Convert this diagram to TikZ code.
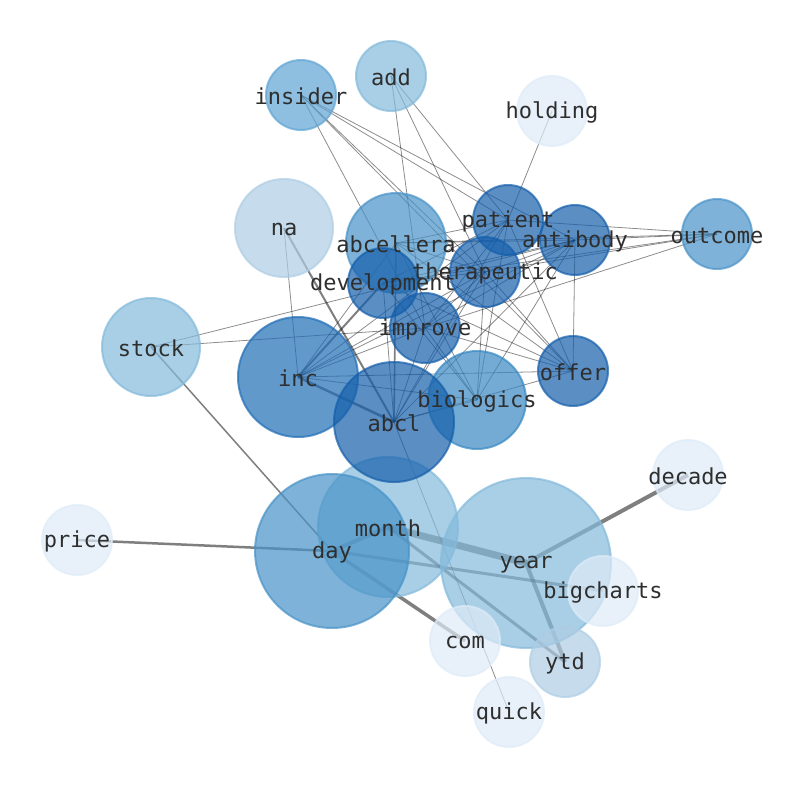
\documentclass[tikz,border=0pt]{standalone}
\usepackage{fontspec}
\newfontfamily\monof{DejaVu Sans Mono}
\pgfdeclarelayer{bg}
\pgfsetlayers{bg,main}
\definecolor{cA}{HTML}{DEEBF7}
\definecolor{cB}{HTML}{AECDE4}
\definecolor{cC}{HTML}{83BADB}
\definecolor{cD}{HTML}{5FA4D3}
\definecolor{cE}{HTML}{4892C7}
\definecolor{cF}{HTML}{3888C2}
\definecolor{cG}{HTML}{206DB5}
\definecolor{cH}{HTML}{155FAB}
\definecolor{txt}{HTML}{2E2E2E}
\tikzset{
  wn/.style={circle, inner sep=0pt, minimum size=#1, line width=2pt, fill opacity=0.7, draw opacity=0.7},
  lab/.style={font=\monof\fontsize{22}{24}\selectfont, text=txt, inner sep=0pt},
  ed/.style={draw=black, draw opacity=0.45, line width=0.8pt},
  edw/.style={draw=black, draw opacity=0.5, line width=#1},
}
\begin{document}
\begin{tikzpicture}[x=1pt,y=-1pt]
\useasboundingbox (0,0) rectangle (794,790);
% nodes (drawing order)
\node[wn=98,  fill=cB, draw=cB] (na) at (284,228) {};
\node[wn=98,  fill=cC, draw=cC] (stock) at (151,347) {};
\node[wn=70,  fill=cD, draw=cD] (insider) at (301,95) {};
\node[wn=70,  fill=cC, draw=cC] (add) at (391,76) {};
\node[wn=70,  fill=cA, draw=cA] (holding) at (552,111) {};
\node[wn=70,  fill=cE, draw=cE] (outcome) at (717,234) {};
\node[wn=100, fill=cE, draw=cE] (abcellera) at (396,243) {};
\node[wn=70,  fill=cH, draw=cH] (patient) at (508,220) {};
\node[wn=70,  fill=cH, draw=cH] (antibody) at (575,240) {};
\node[wn=70,  fill=cH, draw=cH] (therapeutic) at (485,272) {};
\node[wn=70,  fill=cH, draw=cH] (development) at (383,283) {};
\node[wn=70,  fill=cH, draw=cH] (improve) at (425,328) {};
\node[wn=120, fill=cG, draw=cG] (inc) at (298,377) {};
\node[wn=70,  fill=cH, draw=cH] (offer) at (573,371) {};
\node[wn=98,  fill=cF, draw=cF] (biologics) at (477,400) {};
\node[wn=140, fill=cC, draw=cC] (month) at (388,527) {};
\node[wn=120, fill=cH, draw=cH] (abcl) at (394,422) {};
\node[wn=154, fill=cE, draw=cE] (day) at (332,551) {};
\node[wn=170, fill=cC, draw=cC] (year) at (526,563) {};
\node[wn=70,  fill=cA, draw=cA] (decade) at (688,475) {};
\node[wn=70,  fill=cA, draw=cA] (price) at (77,540) {};
\node[wn=70,  fill=cA, draw=cA] (bigcharts) at (603,591) {};
\node[wn=70,  fill=cA, draw=cA] (com) at (465,641) {};
\node[wn=70,  fill=cB, draw=cB] (ytd) at (565,662) {};
\node[wn=70,  fill=cA, draw=cA] (quick) at (509,712) {};
% edges
\begin{pgfonlayer}{bg}
\foreach \a/\b in {insider/improve, insider/therapeutic, insider/patient, insider/antibody, insider/offer,
  add/improve, add/therapeutic, add/patient, holding/patient,
  outcome/patient, outcome/antibody, outcome/therapeutic, outcome/development, outcome/improve, outcome/abcellera,
  abcellera/inc, abcellera/offer, abcellera/biologics, abcellera/patient, abcellera/antibody, abcellera/therapeutic,
  development/abcl, development/antibody, development/patient, development/therapeutic, development/offer, development/biologics,
  improve/inc, improve/abcl, improve/offer, improve/antibody, improve/patient, improve/therapeutic, improve/biologics,
  therapeutic/inc, therapeutic/abcl, therapeutic/offer, therapeutic/biologics, therapeutic/antibody,
  patient/inc, patient/abcl, patient/offer, patient/biologics,
  antibody/offer, antibody/inc, antibody/abcl, antibody/biologics,
  offer/inc, offer/abcl, biologics/inc, biologics/abcl, na/inc, stock/improve, stock/antibody, abcl/quick}
  {\draw[ed] (\a.center) -- (\b.center);}
\draw[edw=1.6pt] (abcellera.center) -- (abcl.center);
\draw[edw=2pt] (development.center) -- (inc.center);
\draw[edw=2.5pt] (inc.center) -- (abcl.center);
\draw[edw=2pt] (na.center) -- (abcl.center);
\draw[edw=1.5pt] (stock.center) -- (day.center);
\draw[edw=2.5pt] (price.center) -- (day.center);
\draw[edw=4pt] (day.center) -- (month.center);
\draw[edw=7pt] (month.center) -- (year.center);
\draw[edw=3pt] (month.center) -- (ytd.center);
\draw[edw=3pt] (day.center) -- (bigcharts.center);
\draw[edw=3.5pt] (day.center) -- (com.center);
\draw[edw=4pt] (year.center) -- (decade.center);
\draw[edw=4pt] (year.center) -- (ytd.center);
\end{pgfonlayer}
% labels
\foreach \n in {na,stock,insider,add,holding,outcome,abcellera,patient,antibody,therapeutic,development,improve,inc,offer,biologics,month,abcl,day,year,decade,price,bigcharts,com,ytd,quick}
  {\node[lab] (\n-t) at ([yshift=-1.5pt]\n.center) {\n};}
\end{tikzpicture}
\end{document}
